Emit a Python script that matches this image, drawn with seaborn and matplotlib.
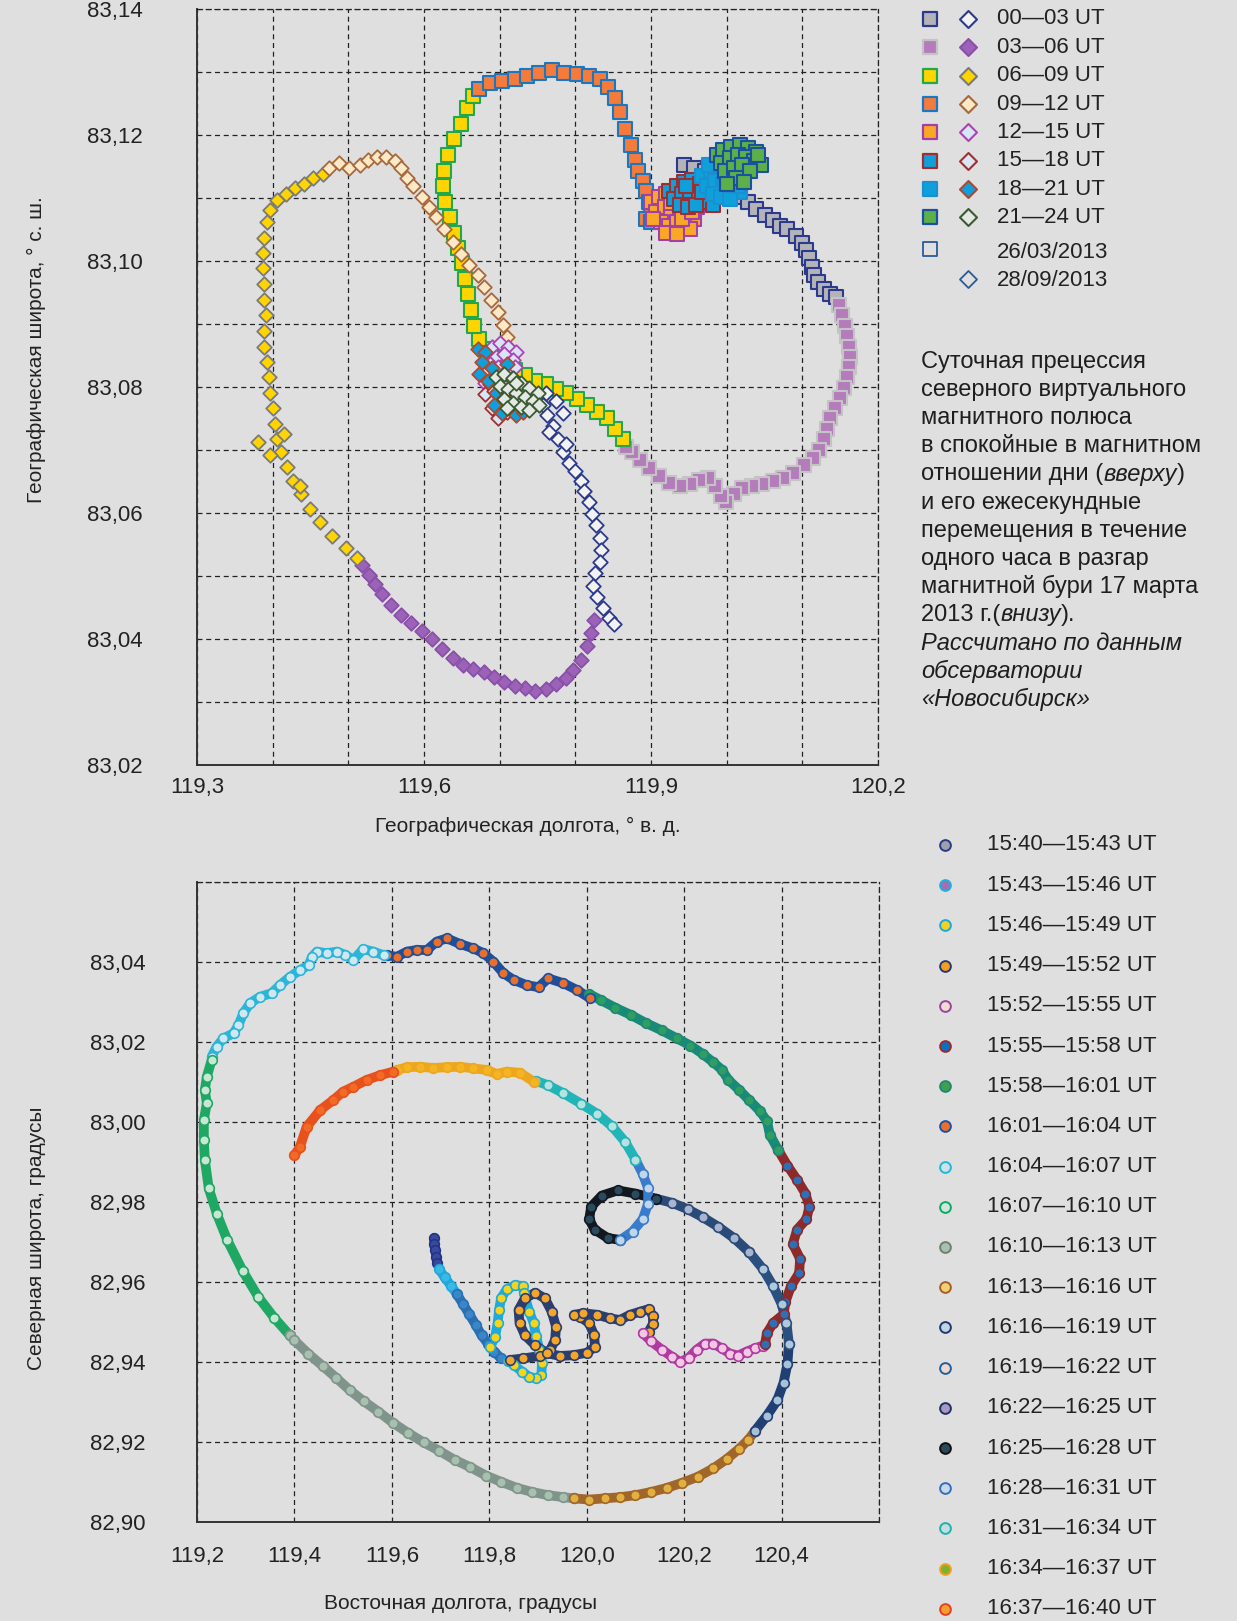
import matplotlib
matplotlib.use("Agg")
import matplotlib.pyplot as plt
import matplotlib.ticker as mticker
import seaborn as sns

sns.set_theme(style="white")
plt.rcParams["font.family"] = ["Liberation Sans", "DejaVu Sans"]

BG = "#dfdfdf"
GRID = "#222222"

# ---------------- top chart: 26/03/2013 (squares) ----------------
sq00_lon = [119.943, 119.957, 119.971, 120.017, 120.028, 120.039, 120.050, 120.061, 120.070, 120.080,
            120.091, 120.099, 120.105, 120.109, 120.113, 120.115, 120.121, 120.128, 120.136, 120.144]
sq00_lat = [83.1152, 83.1147, 83.1142, 83.1102, 83.1093, 83.1083, 83.1073, 83.1065, 83.1056, 83.1050,
            83.1040, 83.1029, 83.1017, 83.1004, 83.0991, 83.0978, 83.0966, 83.0956, 83.0948, 83.0942]

sq03_lon = [120.148, 120.152, 120.156, 120.159, 120.162, 120.163, 120.162, 120.159, 120.155, 120.150,
            120.143, 120.136, 120.132, 120.128, 120.122, 120.114, 120.102, 120.088, 120.075, 120.061,
            120.047, 120.034, 120.020, 120.009, 119.999, 119.993, 119.984, 119.975, 119.964, 119.952,
            119.938, 119.924, 119.911, 119.897, 119.886, 119.875, 119.867]
sq03_lat = [83.0930, 83.0914, 83.0897, 83.0881, 83.0864, 83.0848, 83.0832, 83.0815, 83.0799, 83.0782,
            83.0766, 83.0750, 83.0733, 83.0717, 83.0700, 83.0687, 83.0676, 83.0664, 83.0656, 83.0651,
            83.0646, 83.0643, 83.0640, 83.0630, 83.0617, 83.0627, 83.0643, 83.0656, 83.0653, 83.0646,
            83.0643, 83.0648, 83.0659, 83.0672, 83.0684, 83.0696, 83.0705]

sq06_lon = [119.863, 119.853, 119.842, 119.829, 119.815, 119.802, 119.788, 119.774, 119.761, 119.747,
            119.733, 119.720, 119.706, 119.692, 119.681, 119.672, 119.666, 119.662, 119.658, 119.654,
            119.650, 119.645, 119.639, 119.634, 119.628, 119.625, 119.627, 119.632, 119.640, 119.649,
            119.657, 119.665]
sq06_lat = [83.0717, 83.0733, 83.0750, 83.0761, 83.0771, 83.0781, 83.0791, 83.0797, 83.0804, 83.0810,
            83.0819, 83.0827, 83.0837, 83.0846, 83.0860, 83.0876, 83.0897, 83.0922, 83.0947, 83.0971,
            83.0996, 83.1020, 83.1045, 83.1070, 83.1094, 83.1119, 83.1143, 83.1168, 83.1193, 83.1217,
            83.1242, 83.1261]

sq09_lon = [119.673, 119.687, 119.703, 119.720, 119.736, 119.752, 119.769, 119.785, 119.802, 119.818,
            119.832, 119.843, 119.852, 119.859, 119.866, 119.873, 119.879, 119.883, 119.889, 119.893,
            119.897, 119.900, 119.893, 119.900]
sq09_lat = [83.1273, 83.1283, 83.1286, 83.1289, 83.1293, 83.1298, 83.1303, 83.1299, 83.1296, 83.1294,
            83.1289, 83.1276, 83.1258, 83.1237, 83.1209, 83.1184, 83.1160, 83.1143, 83.1127, 83.1111,
            83.1094, 83.1078, 83.1066, 83.1061]

sq12_lon = [119.900, 119.911, 119.920, 119.930, 119.941, 119.952, 119.961, 119.907, 119.918, 119.927,
            119.938, 119.948, 119.957, 119.913, 119.924, 119.934, 119.944, 119.952, 119.920, 119.934,
            119.902, 119.941, 119.954, 119.927]
sq12_lat = [83.1094, 83.1102, 83.1107, 83.1099, 83.1106, 83.1094, 83.1086, 83.1078, 83.1086, 83.1078,
            83.1083, 83.1073, 83.1066, 83.1061, 83.1056, 83.1061, 83.1053, 83.1050, 83.1045, 83.1043,
            83.1066, 83.1066, 83.1078, 83.1092]

sq15_lon = [119.924, 119.934, 119.944, 119.954, 119.965, 119.975, 119.984, 119.930, 119.941, 119.952,
            119.963, 119.974, 119.938, 119.949, 119.960, 119.982, 119.946, 119.968]
sq15_lat = [83.1111, 83.1119, 83.1125, 83.1129, 83.1122, 83.1116, 83.1106, 83.1099, 83.1106, 83.1111,
            83.1102, 83.1094, 83.1089, 83.1086, 83.1089, 83.1089, 83.1119, 83.1109]

sq18_lon = [119.968, 119.979, 119.990, 120.001, 120.012, 120.020, 119.974, 119.984, 119.995, 120.006,
            120.017, 119.982, 119.993, 120.004, 120.015, 119.976, 119.998]
sq18_lat = [83.1135, 83.1143, 83.1147, 83.1142, 83.1135, 83.1125, 83.1119, 83.1127, 83.1122, 83.1116,
            83.1109, 83.1106, 83.1102, 83.1099, 83.1119, 83.1152, 83.1132]

sq21_lon = [119.987, 119.995, 120.006, 120.017, 120.028, 120.039, 119.993, 120.004, 120.015, 120.026,
            120.036, 120.045, 119.998, 120.009, 120.020, 120.031, 120.012, 120.023, 120.001, 120.042]
sq21_lat = [83.1168, 83.1176, 83.1181, 83.1184, 83.1179, 83.1173, 83.1155, 83.1163, 83.1168, 83.1165,
            83.1158, 83.1152, 83.1143, 83.1148, 83.1152, 83.1143, 83.1132, 83.1125, 83.1122, 83.1168]

# ---------------- top chart: 28/09/2013 (diamonds) ----------------
dm00_lon = [119.757, 119.763, 119.770, 119.777, 119.784, 119.791, 119.799, 119.807, 119.812, 119.818,
            119.822, 119.827, 119.832, 119.834, 119.832, 119.826, 119.823, 119.829, 119.837, 119.845,
            119.851, 119.761, 119.774, 119.784, 119.765, 119.788]
dm00_lat = [83.0771, 83.0755, 83.0738, 83.0717, 83.0696, 83.0679, 83.0666, 83.0651, 83.0635, 83.0617,
            83.0599, 83.0581, 83.0561, 83.0541, 83.0522, 83.0504, 83.0484, 83.0466, 83.0449, 83.0433,
            83.0423, 83.0791, 83.0778, 83.0758, 83.0728, 83.0709]

dm03_lon = [119.825, 119.821, 119.815, 119.807, 119.797, 119.787, 119.774, 119.761, 119.747, 119.733,
            119.720, 119.706, 119.692, 119.679, 119.665, 119.651, 119.638, 119.624, 119.610, 119.597,
            119.583, 119.569, 119.556, 119.545, 119.535, 119.527, 119.518]
dm03_lat = [83.0430, 83.0410, 83.0389, 83.0367, 83.0351, 83.0338, 83.0328, 83.0320, 83.0318, 83.0322,
            83.0325, 83.0331, 83.0340, 83.0348, 83.0353, 83.0359, 83.0369, 83.0384, 83.0400, 83.0413,
            83.0425, 83.0438, 83.0454, 83.0471, 83.0487, 83.0502, 83.0518]

dm06_lon = [119.511, 119.497, 119.479, 119.463, 119.449, 119.438, 119.427, 119.419, 119.411, 119.406,
            119.403, 119.400, 119.397, 119.395, 119.392, 119.389, 119.389, 119.391, 119.389, 119.388,
            119.387, 119.387, 119.389, 119.393, 119.397, 119.406, 119.417, 119.429, 119.441, 119.453,
            119.466, 119.381, 119.397, 119.415, 119.436]
dm06_lat = [83.0528, 83.0545, 83.0564, 83.0586, 83.0607, 83.0630, 83.0651, 83.0673, 83.0696, 83.0717,
            83.0741, 83.0766, 83.0791, 83.0815, 83.0840, 83.0864, 83.0889, 83.0914, 83.0938, 83.0963,
            83.0988, 83.1012, 83.1037, 83.1061, 83.1081, 83.1097, 83.1107, 83.1115, 83.1122, 83.1132,
            83.1138, 83.0712, 83.0692, 83.0725, 83.0643]

dm09_lon = [119.474, 119.488, 119.501, 119.515, 119.526, 119.538, 119.550, 119.561, 119.570, 119.578,
            119.586, 119.597, 119.606, 119.616, 119.627, 119.638, 119.649, 119.660, 119.671, 119.679,
            119.688, 119.698, 119.705, 119.710, 119.714]
dm09_lat = [83.1148, 83.1156, 83.1147, 83.1152, 83.1160, 83.1165, 83.1165, 83.1158, 83.1147, 83.1132,
            83.1119, 83.1102, 83.1086, 83.1070, 83.1050, 83.1030, 83.1011, 83.0994, 83.0978, 83.0958,
            83.0938, 83.0919, 83.0899, 83.0879, 83.0861]

dm12_lon = [119.690, 119.700, 119.711, 119.722, 119.695, 119.706, 119.717, 119.687, 119.698, 119.709,
            119.720, 119.692, 119.703, 119.714, 119.681]
dm12_lat = [83.0864, 83.0869, 83.0863, 83.0856, 83.0848, 83.0853, 83.0843, 83.0837, 83.0832, 83.0827,
            83.0832, 83.0820, 83.0814, 83.0810, 83.0807]

dm15_lon = [119.679, 119.687, 119.681, 119.692, 119.700, 119.690, 119.709, 119.698, 119.717, 119.703]
dm15_lat = [83.0820, 83.0804, 83.0788, 83.0794, 83.0778, 83.0766, 83.0761, 83.0750, 83.0771, 83.0804]

dm18_lon = [119.671, 119.681, 119.676, 119.690, 119.673, 119.684, 119.695, 119.706, 119.714, 119.722,
            119.703, 119.692, 119.731, 119.720, 119.709]
dm18_lat = [83.0860, 83.0856, 83.0840, 83.0830, 83.0820, 83.0810, 83.0791, 83.0782, 83.0766, 83.0755,
            83.0758, 83.0771, 83.0761, 83.0804, 83.0837]

dm21_lon = [119.695, 119.706, 119.717, 119.728, 119.739, 119.750, 119.700, 119.711, 119.722, 119.733,
            119.744, 119.706, 119.717, 119.728, 119.739, 119.752, 119.722, 119.709]
dm21_lat = [83.0815, 83.0820, 83.0814, 83.0807, 83.0799, 83.0791, 83.0802, 83.0797, 83.0791, 83.0784,
            83.0778, 83.0781, 83.0774, 83.0768, 83.0763, 83.0771, 83.0807, 83.0766]

top_labels = ["00—03 UT", "03—06 UT", "06—09 UT", "09—12 UT",
              "12—15 UT", "15—18 UT", "18—21 UT", "21—24 UT"]
sq_face = ["#b4b4b8", "#b57cbc", "#ffd400", "#f47b3b", "#f9a825", "#0fa0dc", "#0fa0dc", "#5bb04a"]
sq_edge = ["#2b3a8c", "#c4c4c4", "#22a84a", "#1b78c0", "#a23fa8", "#9c2f2f", "#1890d2", "#1b4fa0"]
dm_face = ["#f2f2f2", "#9b62b8", "#ffd400", "#fde8c8", "#d6e6f5", "#d6e6f5", "#0fa0dc", "#e4e8e4"]
dm_edge = ["#2b3a8c", "#8a50a8", "#7a7a7a", "#a8683a", "#b040b8", "#a03030", "#b04830", "#3a5a30"]

# ---------------- bottom chart: 17/03/2013 15:40-16:40 UT ----------------
b1540_lon = [119.687, 119.687, 119.689, 119.691, 119.693]
b1540_lat = [82.9710, 82.9694, 82.9679, 82.9663, 82.9648]
b1543a_lon = [119.697, 119.708, 119.721, 119.733]
b1543a_lat = [82.9632, 82.9612, 82.9591, 82.9570]
b1543b_lon = [119.733, 119.746, 119.759, 119.772, 119.784, 119.797, 119.810, 119.823]
b1543b_lat = [82.9570, 82.9545, 82.9519, 82.9493, 82.9467, 82.9446, 82.9426, 82.9410]
b1546_lon = [119.802, 119.812, 119.817, 119.820, 119.824, 119.836, 119.853, 119.869, 119.871, 119.882,
             119.891, 119.896, 119.903, 119.908, 119.907, 119.896, 119.882, 119.867, 119.851, 119.839]
b1546_lat = [82.9438, 82.9463, 82.9497, 82.9530, 82.9559, 82.9582, 82.9592, 82.9590, 82.9572, 82.9526,
             82.9497, 82.9465, 82.9430, 82.9397, 82.9367, 82.9359, 82.9363, 82.9376, 82.9392, 82.9403]
b1549_lon = [119.843, 119.870, 119.904, 119.925, 119.935, 119.937, 119.928, 119.914, 119.894, 119.873,
             119.860, 119.862, 119.873, 119.894, 119.918, 119.945, 119.973, 120.000, 120.017, 120.015,
             120.005, 119.986, 119.974, 119.993, 120.021, 120.048, 120.068, 120.089, 120.110, 120.127,
             120.136, 120.136, 120.127]
b1549_lat = [82.9405, 82.9409, 82.9415, 82.9430, 82.9455, 82.9488, 82.9526, 82.9559, 82.9573, 82.9559,
             82.9530, 82.9497, 82.9467, 82.9442, 82.9422, 82.9415, 82.9417, 82.9423, 82.9438, 82.9467,
             82.9497, 82.9513, 82.9518, 82.9522, 82.9518, 82.9509, 82.9505, 82.9518, 82.9526, 82.9532,
             82.9515, 82.9495, 82.9476]
b1552_lon = [120.115, 120.132, 120.154, 120.175, 120.192, 120.209, 120.226, 120.243, 120.260, 120.277,
             120.294, 120.311, 120.328, 120.345, 120.362]
b1552_lat = [82.9472, 82.9452, 82.9431, 82.9413, 82.9400, 82.9410, 82.9431, 82.9446, 82.9446, 82.9434,
             82.9421, 82.9416, 82.9426, 82.9434, 82.9441]
b1555_lon = [120.366, 120.370, 120.383, 120.404, 120.408, 120.419, 120.436, 120.438, 120.423, 120.432,
             120.451, 120.457, 120.449, 120.432, 120.412, 120.393]
b1555_lat = [82.9446, 82.9472, 82.9498, 82.9519, 82.9550, 82.9589, 82.9622, 82.9658, 82.9695, 82.9731,
             82.9757, 82.9788, 82.9821, 82.9855, 82.9891, 82.9930]
b1558_lon = [120.393, 120.376, 120.370, 120.355, 120.334, 120.313, 120.291, 120.277, 120.260, 120.238,
             120.213, 120.185, 120.154, 120.122, 120.090, 120.058, 120.030, 120.005]
b1558_lat = [82.9930, 82.9968, 83.0002, 83.0028, 83.0054, 83.0080, 83.0105, 83.0131, 83.0149, 83.0170,
             83.0191, 83.0209, 83.0229, 83.0247, 83.0268, 83.0286, 83.0304, 83.0320]
b1601_lon = [120.007, 119.980, 119.952, 119.921, 119.901, 119.877, 119.850, 119.829, 119.808, 119.788,
             119.767, 119.740, 119.713, 119.692, 119.672, 119.651, 119.631, 119.610, 119.590]
b1601_lat = [83.0309, 83.0330, 83.0347, 83.0359, 83.0337, 83.0342, 83.0355, 83.0372, 83.0401, 83.0422,
             83.0434, 83.0445, 83.0459, 83.0451, 83.0430, 83.0430, 83.0426, 83.0413, 83.0417]
b1604_lon = [119.583, 119.562, 119.541, 119.521, 119.504, 119.487, 119.466, 119.446, 119.436, 119.429,
             119.412, 119.391, 119.370, 119.353, 119.329, 119.309, 119.295, 119.285, 119.275, 119.254,
             119.240, 119.230]
b1604_lat = [83.0417, 83.0426, 83.0432, 83.0405, 83.0418, 83.0426, 83.0422, 83.0426, 83.0413, 83.0392,
             83.0380, 83.0363, 83.0342, 83.0322, 83.0313, 83.0297, 83.0272, 83.0242, 83.0222, 83.0209,
             83.0188, 83.0163]
b1607_lon = [119.230, 119.220, 119.216, 119.220, 119.214, 119.214, 119.216, 119.224, 119.241, 119.262,
             119.294, 119.326, 119.358, 119.390]
b1607_lat = [83.0155, 83.0113, 83.0080, 83.0047, 83.0005, 82.9955, 82.9905, 82.9834, 82.9769, 82.9705,
             82.9627, 82.9562, 82.9511, 82.9467]
b1610_lon = [119.390, 119.400, 119.428, 119.458, 119.485, 119.513, 119.542, 119.572, 119.602, 119.634,
             119.665, 119.697, 119.729, 119.761, 119.793, 119.825, 119.857, 119.888, 119.920, 119.952,
             119.973]
b1610_lat = [82.9467, 82.9454, 82.9421, 82.9390, 82.9361, 82.9330, 82.9302, 82.9276, 82.9248, 82.9222,
             82.9199, 82.9178, 82.9155, 82.9137, 82.9116, 82.9100, 82.9085, 82.9075, 82.9067, 82.9062,
             82.9059]
b1613_lon = [119.973, 120.005, 120.037, 120.069, 120.100, 120.132, 120.164, 120.196, 120.228, 120.260,
             120.287, 120.313, 120.332, 120.345]
b1613_lat = [82.9059, 82.9056, 82.9059, 82.9062, 82.9067, 82.9075, 82.9085, 82.9098, 82.9113, 82.9134,
             82.9157, 82.9183, 82.9206, 82.9227]
b1616_lon = [120.345, 120.370, 120.391, 120.404, 120.412, 120.415]
b1616_lat = [82.9227, 82.9266, 82.9304, 82.9348, 82.9395, 82.9446]
b1619_lon = [120.415, 120.410, 120.400, 120.383, 120.362, 120.334]
b1619_lat = [82.9446, 82.9498, 82.9545, 82.9589, 82.9632, 82.9674]
b1622_lon = [120.334, 120.302, 120.270, 120.238, 120.207, 120.175, 120.143]
b1622_lat = [82.9674, 82.9710, 82.9738, 82.9762, 82.9782, 82.9798, 82.9808]
b1625_lon = [120.143, 120.100, 120.064, 120.031, 120.009, 120.005, 120.016, 120.043, 120.069]
b1625_lat = [82.9808, 82.9821, 82.9829, 82.9816, 82.9788, 82.9757, 82.9731, 82.9710, 82.9705]
b1628_lon = [120.069, 120.094, 120.115, 120.126, 120.126, 120.115, 120.100]
b1628_lat = [82.9705, 82.9726, 82.9757, 82.9796, 82.9834, 82.9870, 82.9906]
b1631_lon = [120.100, 120.079, 120.052, 120.022, 119.988, 119.952, 119.920, 119.895]
b1631_lat = [82.9906, 82.9950, 82.9989, 83.0020, 83.0046, 83.0072, 83.0092, 83.0103]
b1634_lon = [119.891, 119.863, 119.836, 119.815, 119.795, 119.767, 119.740, 119.713, 119.685, 119.658,
             119.631, 119.610]
b1634_lat = [83.0101, 83.0123, 83.0126, 83.0120, 83.0130, 83.0134, 83.0138, 83.0137, 83.0135, 83.0138,
             83.0137, 83.0130]
b1637_lon = [119.603, 119.576, 119.548, 119.521, 119.500, 119.480, 119.453, 119.425, 119.411, 119.400]
b1637_lat = [83.0126, 83.0117, 83.0105, 83.0088, 83.0076, 83.0055, 83.0030, 82.9988, 82.9937, 82.9917]

# segment styles as they look on the chart (face, edge)
bot_segments = [
    (b1540_lon, b1540_lat, "#3a4a9a", "#23338a"),
    (b1543a_lon, b1543a_lat, "#3ab8e6", "#1fa8dc"),
    (b1543b_lon, b1543b_lat, "#3a86c6", "#2a6fb2"),
    (b1546_lon, b1546_lat, "#f7d41a", "#1eaadc"),
    (b1549_lon, b1549_lat, "#f4a62a", "#2c3e70"),
    (b1552_lon, b1552_lat, "#f2c8e4", "#b03aa0"),
    (b1555_lon, b1555_lat, "#2f6fb5", "#8e2a2a"),
    (b1558_lon, b1558_lat, "#2f9e60", "#1a8a78"),
    (b1601_lon, b1601_lat, "#e8702a", "#1f4f9a"),
    (b1604_lon, b1604_lat, "#cfe8f0", "#2bb5d8"),
    (b1607_lon, b1607_lat, "#c8e6d4", "#1fa863"),
    (b1610_lon, b1610_lat, "#a8c0b0", "#7f948a"),
    (b1613_lon, b1613_lat, "#e0b040", "#a0662a"),
    (b1616_lon, b1616_lat, "#a8c0d8", "#1f3f75"),
    (b1619_lon, b1619_lat, "#b0c8dc", "#2a5080"),
    (b1622_lon, b1622_lat, "#a8b4d0", "#2a4a78"),
    (b1625_lon, b1625_lat, "#2a4a5e", "#111820"),
    (b1628_lon, b1628_lat, "#c0d6ec", "#3a7ccc"),
    (b1631_lon, b1631_lat, "#b8e2e0", "#22b5b8"),
    (b1634_lon, b1634_lat, "#f4b423", "#eca71f"),
    (b1637_lon, b1637_lat, "#f26a26", "#e8501c"),
]

bot_labels = ["15:40—15:43 UT", "15:43—15:46 UT", "15:46—15:49 UT", "15:49—15:52 UT",
              "15:52—15:55 UT", "15:55—15:58 UT", "15:58—16:01 UT", "16:01—16:04 UT",
              "16:04—16:07 UT", "16:07—16:10 UT", "16:10—16:13 UT", "16:13—16:16 UT",
              "16:16—16:19 UT", "16:19—16:22 UT", "16:22—16:25 UT", "16:25—16:28 UT",
              "16:28—16:31 UT", "16:31—16:34 UT", "16:34—16:37 UT", "16:37—16:40 UT"]
bot_face = ["#a0a0a8", "#a070b0", "#f5d020", "#f0a020", "#efdcd0", "#0a70c0", "#40a050", "#e87030",
            "#d0e0e8", "#d0e4e0", "#a8c0b0", "#f0d070", "#c0d4e4", "#f0d8d0", "#a898c8", "#2a4a5a",
            "#c8d8e8", "#c0e0e0", "#80b030", "#f0a030"]
bot_edge = ["#2a3a8a", "#20b0e0", "#1aa8e0", "#2a3a70", "#a040a0", "#a02a2a", "#208a70", "#2050a0",
            "#20b8d8", "#10a860", "#708070", "#a06030", "#203a70", "#2060a0", "#203060", "#101010",
            "#3070c0", "#20b0b0", "#f0a020", "#e84020"]

caption = [
    [("Суточная прецессия", "normal")],
    [("северного виртуального", "normal")],
    [("магнитного полюса", "normal")],
    [("в спокойные в магнитном", "normal")],
    [("отношении дни (", "normal"), ("вверху", "italic"), (")", "normal")],
    [("и его ежесекундные", "normal")],
    [("перемещения в течение", "normal")],
    [("одного часа в разгар", "normal")],
    [("магнитной бури 17 марта", "normal")],
    [("2013 г.(", "normal"), ("внизу", "italic"), (").", "normal")],
    [("Рассчитано по данным", "italic")],
    [("обсерватории", "italic")],
    [("«Новосибирск»", "italic")],
]


def comma(fmt):
    return mticker.FuncFormatter(lambda v, pos: format(v, fmt).replace(".", ","))


def style_axes(ax):
    ax.set_facecolor(BG)
    ax.grid(True, which="both", linestyle=(0, (4, 3)), color=GRID, linewidth=0.9)
    ax.set_axisbelow(True)
    for side in ("left", "bottom"):
        ax.spines[side].set_color("#333333")
        ax.spines[side].set_linewidth(1.4)
    for side in ("top", "right"):
        ax.spines[side].set_linestyle((0, (4, 3)))
        ax.spines[side].set_color(GRID)
        ax.spines[side].set_linewidth(0.9)
    ax.tick_params(which="both", length=0, labelsize=16, colors="#222222")


fig = plt.figure(figsize=(12.37, 16.21), dpi=100, facecolor=BG)

# ---- top ----
ax1 = fig.add_axes([0.1593, 0.5281, 0.5505, 0.4664])
style_axes(ax1)
sq_sets = [(sq00_lon, sq00_lat), (sq03_lon, sq03_lat), (sq06_lon, sq06_lat), (sq09_lon, sq09_lat),
           (sq12_lon, sq12_lat), (sq15_lon, sq15_lat), (sq18_lon, sq18_lat), (sq21_lon, sq21_lat)]
dm_sets = [(dm00_lon, dm00_lat), (dm03_lon, dm03_lat), (dm06_lon, dm06_lat), (dm09_lon, dm09_lat),
           (dm12_lon, dm12_lat), (dm15_lon, dm15_lat), (dm18_lon, dm18_lat), (dm21_lon, dm21_lat)]
for i, (x, y) in enumerate(sq_sets):
    sns.scatterplot(x=x, y=y, ax=ax1, marker="s", s=95, color=sq_face[i],
                    edgecolor=sq_edge[i], linewidth=1.5, legend=False, zorder=3)
for i, (x, y) in enumerate(dm_sets):
    sns.scatterplot(x=x, y=y, ax=ax1, marker="D", s=55, color=dm_face[i],
                    edgecolor=dm_edge[i], linewidth=1.3, legend=False, zorder=4)

ax1.set_xlim(119.3, 120.2)
ax1.set_ylim(83.02, 83.14)
ax1.xaxis.set_major_locator(mticker.FixedLocator([119.3, 119.6, 119.9, 120.2]))
ax1.xaxis.set_minor_locator(mticker.FixedLocator([119.4, 119.5, 119.7, 119.8, 120.0, 120.1]))
ax1.yaxis.set_major_locator(mticker.FixedLocator([83.02, 83.04, 83.06, 83.08, 83.10, 83.12, 83.14]))
ax1.yaxis.set_minor_locator(mticker.FixedLocator([83.03, 83.05, 83.07, 83.09, 83.11, 83.13]))
ax1.xaxis.set_major_formatter(comma(".1f"))
ax1.yaxis.set_major_formatter(comma(".2f"))
ax1.tick_params(axis="y", pad=39)
ax1.tick_params(axis="x", pad=9)
ax1.set_xlabel("Географическая долгота, ° в. д.", fontsize=15, color="#222222")
ax1.set_ylabel("Географическая широта, ° с. ш.", fontsize=15, color="#222222")
ax1.xaxis.set_label_coords(0.485, -0.069)
ax1.yaxis.set_label_coords(-0.222, 0.55)

# ---- bottom ----
ax2 = fig.add_axes([0.1593, 0.0611, 0.5513, 0.3948])
style_axes(ax2)
for x, y, face, edge in bot_segments:
    sns.lineplot(x=x, y=y, ax=ax2, sort=False, estimator=None, color=edge, linewidth=7,
                 solid_capstyle="round", solid_joinstyle="round", legend=False, zorder=3)
    sns.scatterplot(x=x, y=y, ax=ax2, marker="o", s=48, color=face, edgecolor=edge,
                    linewidth=1.2, legend=False, zorder=4)
ax2.set_xlim(119.2, 120.6)
ax2.set_ylim(82.90, 83.06)
ax2.xaxis.set_major_locator(mticker.FixedLocator([119.2, 119.4, 119.6, 119.8, 120.0, 120.2, 120.4]))
ax2.xaxis.set_minor_locator(mticker.FixedLocator([120.6]))
ax2.yaxis.set_major_locator(mticker.FixedLocator([82.90, 82.92, 82.94, 82.96, 82.98, 83.00, 83.02, 83.04]))
ax2.yaxis.set_minor_locator(mticker.FixedLocator([83.06]))
ax2.xaxis.set_major_formatter(comma(".1f"))
ax2.yaxis.set_major_formatter(comma(".2f"))
ax2.tick_params(axis="y", pad=37)
ax2.tick_params(axis="x", pad=17)
ax2.set_xlabel("Восточная долгота, градусы", fontsize=15, color="#222222")
ax2.set_ylabel("Северная широта, градусы", fontsize=15, color="#222222")
ax2.xaxis.set_label_coords(0.386, -0.112)
ax2.yaxis.set_label_coords(-0.222, 0.444)

# ---- overlay in pixel units for legends and caption ----
ov = fig.add_axes([0, 0, 1, 1], zorder=5)
ov.set_xlim(0, 1237)
ov.set_ylim(1621, 0)
ov.axis("off")
ov.patch.set_alpha(0)

for i, lab in enumerate(top_labels):
    yy = 19 + 28.34 * i
    ov.scatter([930], [yy], marker="s", s=115, c=sq_face[i], edgecolors=sq_edge[i], linewidths=1.6)
    ov.scatter([968], [yy], marker="D", s=75, c=dm_face[i], edgecolors=dm_edge[i], linewidths=1.5)
    ov.text(997, yy, lab, fontsize=16, va="center", ha="left", color="#222222")
ov.scatter([930], [249], marker="s", s=115, c=BG, edgecolors="#2a5a9a", linewidths=1.3)
ov.text(997, 253, "26/03/2013", fontsize=16, va="center", ha="left", color="#222222")
ov.scatter([968], [279], marker="D", s=75, c=BG, edgecolors="#2a5a9a", linewidths=1.3)
ov.text(997, 281, "28/09/2013", fontsize=16, va="center", ha="left", color="#222222")

for i, lab in enumerate(bot_labels):
    yy = 845 + 40.2 * i
    ov.scatter([945], [yy], marker="o", s=60, c=bot_face[i], edgecolors=bot_edge[i], linewidths=1.4)
    ov.text(987, yy, lab, fontsize=16, va="center", ha="left", color="#222222")

renderer = fig.canvas.get_renderer()
for i, parts in enumerate(caption):
    xx = 921
    yy = 362 + 28.1 * i
    for s, st in parts:
        t = ov.text(xx, yy, s, fontsize=17, va="center", ha="left", fontstyle=st, color="#1e1e1e")
        xx += t.get_window_extent(renderer).width

fig.savefig("out.png", dpi=100, facecolor=BG)
